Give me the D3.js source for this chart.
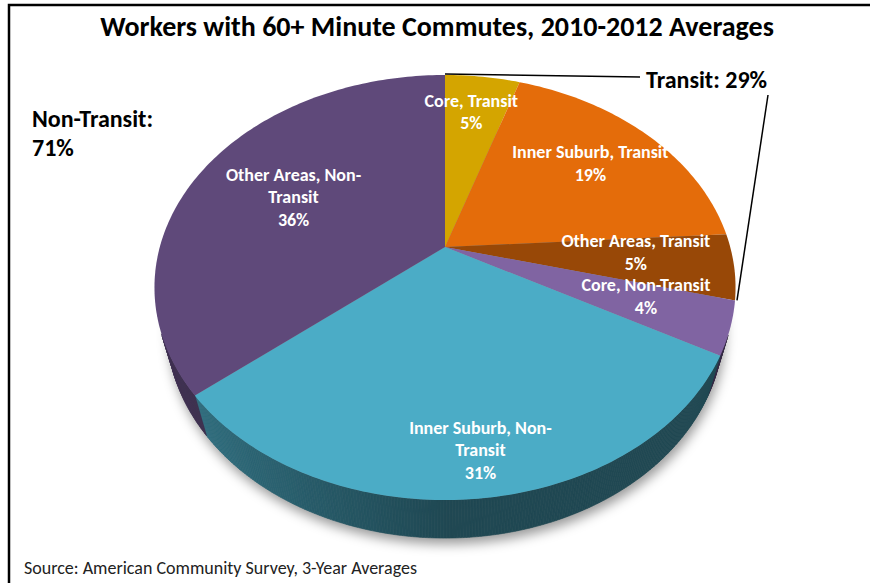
<!DOCTYPE html>
<meta charset="utf-8">
<script src="https://cdn.jsdelivr.net/npm/d3@7"></script>
<style>
  body { margin: 0; background: #fff; }
  text { font-family: Carlito, Calibri, Lato, sans-serif; }
</style>
<body>
<div id="chart"></div>
<script>
  // chart data
  var categories = ["Core, Transit", "Inner Suburb, Transit", "Other Areas, Transit",
                    "Core, Non-Transit", "Inner Suburb, Non-Transit", "Other Areas, Non-Transit"];
  var shares = [5, 19, 5, 4, 31, 36];
  var modes = ["Transit", "Transit", "Transit", "Non-Transit", "Non-Transit", "Non-Transit"];
  var colors = ["#d4a500", "#e46c0a", "#984807", "#8064a2", "#4bacc6", "#5f497a"];

  // layout bits (Excel nudges its labels around a bit)
  var wrapLabel = [false, false, false, false, true, true];
  var labelNudge = [[-3, -2], [-10, 3], [-25, -9], [-9, -10], [12, 25], [31, 12]];

  var W = 870, H = 583;
  var svg = d3.select("#chart").append("svg")
      .attr("width", W).attr("height", H);

  // simple perspective camera for a tilted disc
  var cx = 445, cy = 247, f = 1041, D = 3.65,
      sA = 0.718, cA = 0.696, depth = 0.218;

  function proj(u, v, h) {
    var yc = v * sA - h * cA;
    var zc = D - v * cA - h * sA;
    return [cx + f * u / zc, cy + f * yc / zc];
  }
  function rim(a, r, h) {
    return proj(r * Math.sin(a), -r * Math.cos(a), h);
  }

  var pie = d3.pie().sort(null).value(function(d) { return d; });
  var arcs = pie(shares);
  var color = d3.scaleOrdinal().domain(categories).range(colors);
  var line = d3.line();

  // border
  svg.append("rect")
      .attr("x", 9).attr("y", 5)
      .attr("width", W + 20).attr("height", H + 20)
      .attr("fill", "none").attr("stroke", "#000").attr("stroke-width", 2.5);

  // title
  svg.append("text")
      .attr("x", 437).attr("y", 36)
      .attr("text-anchor", "middle")
      .style("font-size", "28px").style("font-weight", "bold")
      .text("Workers with 60+ Minute Commutes, 2010-2012 Averages");

  // soft shadow under the pie
  var defs = svg.append("defs");
  defs.append("filter").attr("id", "blur")
      .attr("x", "-20%").attr("y", "-20%").attr("width", "140%").attr("height", "140%")
    .append("feGaussianBlur").attr("stdDeviation", 6);

  var outline = d3.range(0, 361, 2).map(function(deg) {
    return rim(deg * Math.PI / 180, 1, -depth);
  });
  svg.append("path")
      .attr("d", line(outline) + "Z")
      .attr("transform", "translate(2,6)")
      .attr("fill", "#000").attr("fill-opacity", 0.4)
      .attr("filter", "url(#blur)");

  // side wall: only the part facing the camera
  var vMin = 1 / (D * cA);
  var step = Math.PI / 360;
  var sideSegs = [];
  arcs.forEach(function(d, i) {
    for (var a = d.startAngle; a < d.endAngle - 1e-9; a += step) {
      var b = Math.min(a + step, d.endAngle);
      var m = (a + b) / 2;
      if (-Math.cos(m) <= vMin) continue;
      sideSegs.push({a: a, b: b, m: m, i: i});
    }
  });
  svg.append("g").selectAll("path")
    .data(sideSegs).join("path")
      .attr("d", function(s) {
        return line([rim(s.a, 1, 0), rim(s.b, 1, 0), rim(s.b, 1, -depth), rim(s.a, 1, -depth)]) + "Z";
      })
      .attr("fill", function(s) { return shade(s); })
      .attr("stroke", function(s) { return shade(s); })
      .attr("stroke-width", 0.6);

  function shade(s) {
    var u = Math.sin(s.m);
    var k = 0.42 + 0.28 * Math.max(0, -u);
    var c = d3.rgb(color(categories[s.i]));
    return d3.rgb(c.r * k, c.g * k, c.b * k).toString();
  }

  // top face of each slice
  svg.append("g").selectAll("path")
    .data(arcs).join("path")
      .attr("d", function(d) {
        var n = Math.max(2, Math.ceil((d.endAngle - d.startAngle) / (Math.PI / 180)));
        var pts = [proj(0, 0, 0)];
        for (var k = 0; k <= n; k++) {
          pts.push(rim(d.startAngle + (d.endAngle - d.startAngle) * k / n, 1, 0));
        }
        return line(pts) + "Z";
      })
      .attr("fill", function(d, i) { return color(categories[i]); });

  // slice labels
  var total = d3.sum(shares);
  var lab = svg.append("g").selectAll("text")
    .data(arcs).join("text")
      .attr("text-anchor", "middle")
      .attr("fill", "#fff")
      .style("font-size", "18px").style("font-weight", "bold")
      .each(function(d, i) {
        var p = rim((d.startAngle + d.endAngle) / 2, 0.75, 0);
        var name = categories[i];
        var lines = wrapLabel[i] ? name.replace("Non-", "Non-\n").split("\n") : [name];
        lines.push(Math.round(d.value / total * 100) + "%");
        var lh = 22.5;
        var x = p[0] + labelNudge[i][0];
        var y0 = p[1] + labelNudge[i][1] - lh * (lines.length - 1) / 2 + 6;
        d3.select(this).selectAll("tspan")
          .data(lines).join("tspan")
            .attr("x", x)
            .attr("y", function(t, j) { return y0 + j * lh; })
            .text(function(t) { return t; });
      });

  // group totals
  var transitIdx = d3.range(shares.length).filter(function(i) { return modes[i] === "Transit"; });
  var transit = d3.sum(transitIdx, function(i) { return shares[i]; });
  var nonTransit = total - transit;
  var transitEnd = d3.max(transitIdx, function(i) { return arcs[i].endAngle; });

  var pTop = rim(0, 1, 0), pEnd = rim(transitEnd, 1, 0);
  svg.append("path")
      .attr("d", line([[pTop[0], pTop[1] - 1], [640, 77]]))
      .attr("stroke", "#000").attr("stroke-width", 1.5).attr("fill", "none");
  svg.append("path")
      .attr("d", line([[768, 95], [pEnd[0] + 2, pEnd[1]]]))
      .attr("stroke", "#000").attr("stroke-width", 1.5).attr("fill", "none");

  svg.append("text")
      .attr("x", 646).attr("y", 88)
      .style("font-size", "24px").style("font-weight", "bold")
      .text("Transit: " + Math.round(transit / total * 100) + "%");

  var nt = svg.append("text")
      .style("font-size", "24px").style("font-weight", "bold");
  nt.append("tspan").attr("x", 32).attr("y", 127).text("Non-Transit:");
  nt.append("tspan").attr("x", 32).attr("y", 156).text(Math.round(nonTransit / total * 100) + "%");

  // source note
  svg.append("text")
      .attr("x", 24).attr("y", 574)
      .style("font-size", "18px")
      .attr("fill", "#222")
      .text("Source: American Community Survey, 3-Year Averages");
</script>
</body>
